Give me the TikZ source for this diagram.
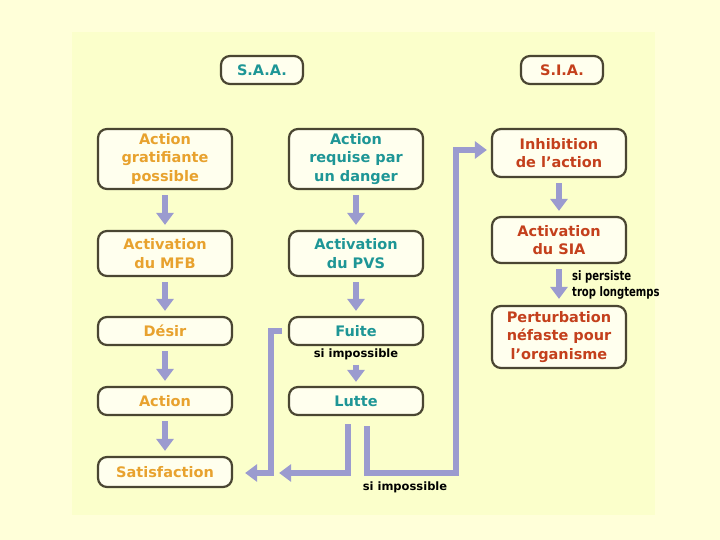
\documentclass[tikz,border=0pt]{standalone}
\usepackage{fontspec}
\setmainfont{DejaVu Sans}
\newfontfamily\condfont[FakeStretch=0.86]{DejaVu Sans Condensed}
\usetikzlibrary{arrows.meta}
\definecolor{bgout}{HTML}{FFFFD9}
\definecolor{bgin}{HTML}{FBFFCB}
\definecolor{boxfill}{HTML}{FFFFEE}
\definecolor{boxline}{HTML}{4A4632}
\definecolor{ora}{HTML}{E8A22E}
\definecolor{teal1}{HTML}{1E9696}
\definecolor{red1}{HTML}{C4401C}
\definecolor{arrc}{HTML}{9B9BCF}
\tikzset{
  box/.style={draw=boxline, line width=2.2pt, rounded corners=9pt, fill=boxfill,
    minimum width=134pt, align=center, inner sep=2pt,
    font=\fontsize{14.5}{18.5}\selectfont\bfseries},
  hdr/.style={box, minimum width=82pt, minimum height=28pt},
  arr/.style={draw=arrc, line width=6.5pt, line join=miter,
    -{Triangle[width=17pt,length=12pt]}},
  lbl/.style={font=\fontsize{11.5}{13}\selectfont\bfseries, inner sep=0pt},
  clbl/.style={font=\fontsize{13}{16}\selectfont\condfont\bfseries, inner sep=0pt, align=left, anchor=west}
}
\begin{document}
\begin{tikzpicture}[x=1pt,y=-1pt]
\fill[bgout] (0,0) rectangle (720,540);
\fill[bgin] (72,32) rectangle (655,515);
\useasboundingbox (0,0) rectangle (720,540);

\node[hdr, text=teal1] (saa) at (262,70) {S.A.A.};
\node[hdr, text=red1] (sia) at (562,70) {S.I.A.};

\node[box, text=ora, minimum height=60pt] (a1) at (165,159) {Action\\gratifiante\\possible};
\node[box, text=ora, minimum height=45pt] (a2) at (165,253.5) {Activation\\du MFB};
\node[box, text=ora, minimum height=28pt] (a3) at (165,331) {Désir};
\node[box, text=ora, minimum height=28pt] (a4) at (165,401) {Action};
\node[box, text=ora, minimum height=30pt] (a5) at (165,472) {Satisfaction};

\node[box, text=teal1, minimum height=60pt] (b1) at (356,159) {Action\\requise par\\un danger};
\node[box, text=teal1, minimum height=45pt] (b2) at (356,253.5) {Activation\\du PVS};
\node[box, text=teal1, minimum height=28pt] (b3) at (356,331) {Fuite};
\node[box, text=teal1, minimum height=28pt] (b4) at (356,401) {Lutte};

\node[box, text=red1, minimum height=48pt] (c1) at (559,153) {Inhibition\\de l’action};
\node[box, text=red1, minimum height=46pt] (c2) at (559,240) {Activation\\du SIA};
\node[box, text=red1, minimum height=62pt] (c3) at (559,337) {Perturbation\\néfaste pour\\l’organisme};

\draw[arr] ([yshift=-5pt]a1.south) -- ([yshift=5pt]a2.north);
\draw[arr] ([yshift=-5pt]a2.south) -- ([yshift=5pt]a3.north);
\draw[arr] ([yshift=-5pt]a3.south) -- ([yshift=5pt]a4.north);
\draw[arr] ([yshift=-5pt]a4.south) -- ([yshift=5pt]a5.north);

\draw[arr] ([yshift=-5pt]b1.south) -- ([yshift=5pt]b2.north);
\draw[arr] ([yshift=-5pt]b2.south) -- ([yshift=5pt]b3.north);
\node[lbl] (si1) at (356,354) {si impossible};
\draw[arr] ([yshift=-5pt]si1.south) -- ([yshift=4pt]b4.north);

\draw[arr] ([yshift=-5pt]c1.south) -- ([yshift=5pt]c2.north);
\draw[arr] ([yshift=-5pt]c2.south) -- ([yshift=6pt]c3.north);
\node[clbl] (sp) at (572,285) {si persiste\\trop longtemps};

\draw[arr] ([xshift=-6pt]b3.west) -- ++(-11,0) |- ([xshift=12pt,yshift=-1pt]a5.east);
\draw[arr] ([xshift=-8pt,yshift=-8pt]b4.south) |- ([xshift=46pt,yshift=-1pt]a5.east);
\coordinate (turn) at (456,473);
\draw[arr] ([xshift=11pt,yshift=-10pt]b4.south) |- (turn) |- ([xshift=-4pt,yshift=3pt]c1.west);
\node[lbl] (si2) at (405,487) {si impossible};
\end{tikzpicture}
\end{document}
